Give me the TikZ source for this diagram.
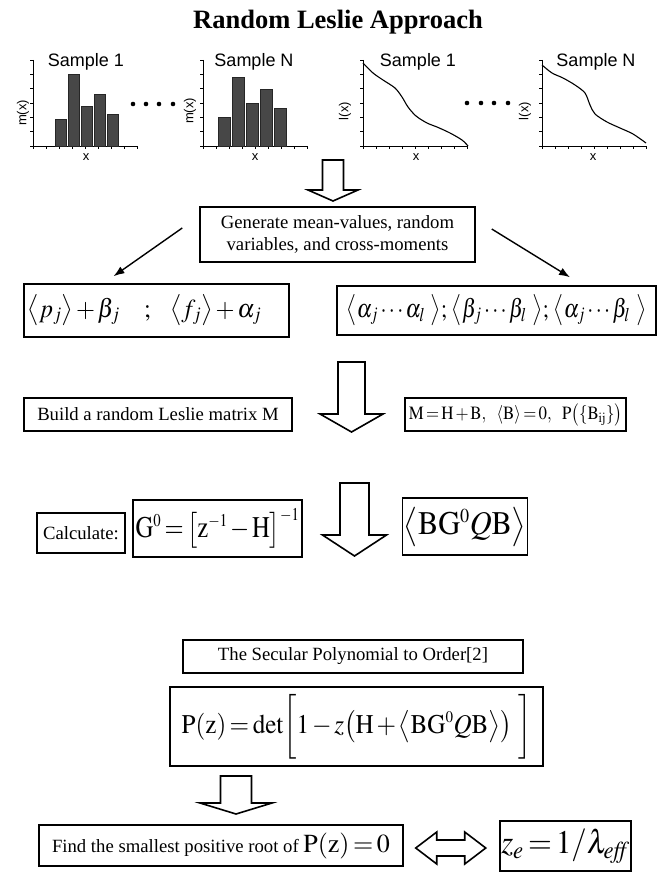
\documentclass[tikz,border=0pt]{standalone}
\usepackage{graphicx}
\usepackage{mathptmx}
\usepackage{fontspec}
\setmainfont{Liberation Serif}
\newfontfamily\plotfont{Liberation Sans}
\usepackage{tikz}
\usetikzlibrary{arrows.meta,positioning,calc}
\tikzset{
  >={Latex[length=11pt,width=8pt]},
  box/.style={draw, line width=1.5pt, rectangle, inner sep=2pt, align=center},
  txt/.style={font=\fontsize{18.7}{21.5}\selectfont},
  bigmath/.style={font=\fontsize{33}{38}\selectfont},
  midmath/.style={font=\fontsize{26}{30}\selectfont},
  tight/.style={execute at begin node={\thinmuskip=2mu\medmuskip=2mu\thickmuskip=2.5mu}},
  axislbl/.style={font=\plotfont\fontsize{13}{14}\selectfont},
  sample/.style={font=\plotfont\fontsize{18}{20}\selectfont},
  axis/.style={line width=0.8pt},
  bar/.style={fill=black!72, draw=black!85, line width=0.5pt},
  curve/.style={line width=1.1pt},
  blockarrow/.style={draw, line width=1.6pt, fill=white, line join=miter},
  conn/.style={->, line width=1.4pt},
}
% hollow down arrow: centre x, top, half shaft, half head, head base, tip
\newcommand{\flowarrow}[6]{%
  \draw[blockarrow] (#1-#3,#2) -- (#1+#3,#2) -- (#1+#3,#5) -- (#1+#4,#5)
    -- (#1,#6) -- (#1-#4,#5) -- (#1-#3,#5) -- cycle;}
\newcommand{\squeeze}[2]{\scalebox{#1}[1]{#2}}

\begin{document}
\begin{tikzpicture}[x=1pt, y=-1pt]
  \useasboundingbox (0,0) rectangle (661,872);
  \node[font=\bfseries\fontsize{26.5}{30}\selectfont] (title) at (338,22) {Random Leslie Approach};

  % sample panels
  \foreach \ox in {33,203,363,542}{
    \draw[axis] (\ox,60) -- (\ox,146) -- (\ox+105,146);
    \foreach \k in {0,...,6} \draw[axis] (\ox,146-14.33*\k) -- ++(-3,0);
    \foreach \k in {0,...,8} \draw[axis] (\ox+13.1*\k,146) -- ++(0,3);
  }
  \foreach \bx/\by in {55/119,68/74,81/106,94/94,107/114}
    \draw[bar] (\bx,146) rectangle (\bx+11,\by);
  \foreach \bx/\by in {218/117,232/77,246/103,260/89,274/108}
    \draw[bar] (\bx,146) rectangle (\bx+12,\by);
  \draw[curve] plot[smooth, tension=0.5] coordinates {(363,63) (373,73) (383,80) (395,88)
    (402,97) (408,107) (416,116) (427,123) (437,127) (450,133) (462,140) (468,146)};
  \draw[curve] plot[smooth, tension=0.5] coordinates {(542,65) (552,73) (563,78) (575,85)
    (585,93) (590,105) (595,114) (607,122) (620,128) (633,134) (646,143)};

  \node[sample] (s1) at (86,62) {Sample 1};
  \node[sample] (sN) at (254,62) {Sample N};
  \node[sample] (t1) at (418,62) {Sample 1};
  \node[sample] (tN) at (596,62) {Sample N};
  \node[axislbl, rotate=90] (m1) at (23,113) {m(x)};
  \node[axislbl, rotate=90] (mN) at (190,111) {m(x)};
  \node[axislbl, rotate=90] (l1) at (345,111) {l(x)};
  \node[axislbl, rotate=90] (lN) at (525,111) {l(x)};
  \node[axislbl] (x1) at (86,157) {x};
  \node[axislbl] (xN) at (255,157) {x};
  \node[axislbl] (y1) at (416,157) {x};
  \node[axislbl] (yN) at (593,157) {x};
  \foreach \dx in {133,146,159,173} \fill (\dx,104) circle (2.3);
  \foreach \dx in {467,481,494,508} \fill (\dx,103) circle (2.3);

  \flowarrow{333}{160}{10.5}{25}{190}{201}

  % moments
  \node[box, txt, minimum width=275, minimum height=55] (gen) at (337.5,234.5)
    {Generate mean-values, random\\variables, and cross-moments};
  \node[box, midmath, tight, minimum width=265, minimum height=53, text width=258, align=left] (pbox) at (156.5,310.5)
    {\squeeze{0.94}{$\bigl\langle p_j\bigr\rangle+\beta_j\ \ \ ;\ \ \bigl\langle f_j\bigr\rangle+\alpha_j$}};
  \node[box, midmath, tight, minimum width=319, minimum height=49] (abox) at (496.5,310.5)
    {\squeeze{0.83}{$\bigl\langle \alpha_j\cdots\alpha_l\mkern5mu\bigr\rangle;\,\bigl\langle \beta_j\cdots\beta_l\mkern5mu\bigr\rangle;\,\bigl\langle \alpha_j\cdots\beta_l\mkern5mu\bigr\rangle$}};
  \draw[conn] ($(gen.west)+(-17,-6.5)$) -- ($(pbox.north)+(-43,-7)$);
  \draw[conn] ($(gen.east)+(16,-5.5)$) -- ($(abox.north)+(73.5,-8)$);

  % random matrix
  \node[box, txt, minimum width=268, minimum height=33] (build) at (158,414.5) {Build a random Leslie matrix M};
  \flowarrow{351.5}{362}{13.5}{31.5}{414}{432}
  \node[box, txt, tight, minimum width=221, minimum height=33, inner sep=1pt] (mbox) at (515.5,414.5)
    {\squeeze{0.9}{$\mathrm{M}=\mathrm{H}+\mathrm{B},\ \ \langle\mathrm{B}\rangle=0,\ \ \mathrm{P}\bigl(\{\mathrm{B}_{\mathrm{ij}}\}\bigr)$}};

  % Green function
  \node[box, txt, minimum width=88, minimum height=40] (calc) at (81,533) {Calculate:};
  \node[box, tight, font=\fontsize{30}{36}\selectfont, minimum width=169, minimum height=57, inner sep=1pt] (g0) at (217.5,528.5)
    {\squeeze{0.82}{$\mathrm{G}^{\scriptscriptstyle 0}=\bigl[\mathrm{z}^{\scriptscriptstyle -1}-\mathrm{H}\bigr]^{\scriptscriptstyle -1}$}};
  \flowarrow{354.5}{483}{14.5}{32}{535}{556}
  \node[box, bigmath, tight, minimum width=120, minimum height=57, inner sep=1pt] (bgq) at (465,526.5)
    {\squeeze{0.92}{$\bigl\langle\mathrm{BG}^{\scriptscriptstyle 0}Q\mathrm{B}\bigr\rangle$}};

  % secular polynomial
  \node[box, txt, minimum width=340, minimum height=33] (sec) at (353,656.5) {The Secular Polynomial to Order[2]};
  \node[box, tight, font=\fontsize{27}{32}\selectfont, minimum width=373, minimum height=79] (ppz) at (356.5,726.5)
    {\squeeze{0.93}{$\mathrm{P(z)}=\det\biggl[1-z\bigl(\mathrm{H}+\bigl\langle\mathrm{BG}^{\scriptscriptstyle 0}Q\mathrm{B}\bigr\rangle\bigr)\ \biggr]$}};
  \flowarrow{236}{776}{15.5}{36}{803}{814}

  % root
  \node[box, txt, tight, minimum width=364, minimum height=41] (find) at (221,845.5)
    {Find the smallest positive root of {\fontsize{26}{30}\selectfont$\mathrm{P(z)}=0$}};
  \node[box, bigmath, tight, minimum width=131, minimum height=50, inner sep=1pt] (zbox) at (565.5,846)
    {\squeeze{0.93}{$z_e=1/\lambda_{\mathit{eff}}$}};
  \draw[blockarrow] ($(find.east)+(12,2.5)$) -- ++(21,-16) -- ++(0,8) -- ++(28,0) -- ++(0,-8)
    -- ++(21,16) -- ++(-21,16) -- ++(0,-8) -- ++(-28,0) -- ++(0,8) -- cycle;
\end{tikzpicture}
\end{document}
